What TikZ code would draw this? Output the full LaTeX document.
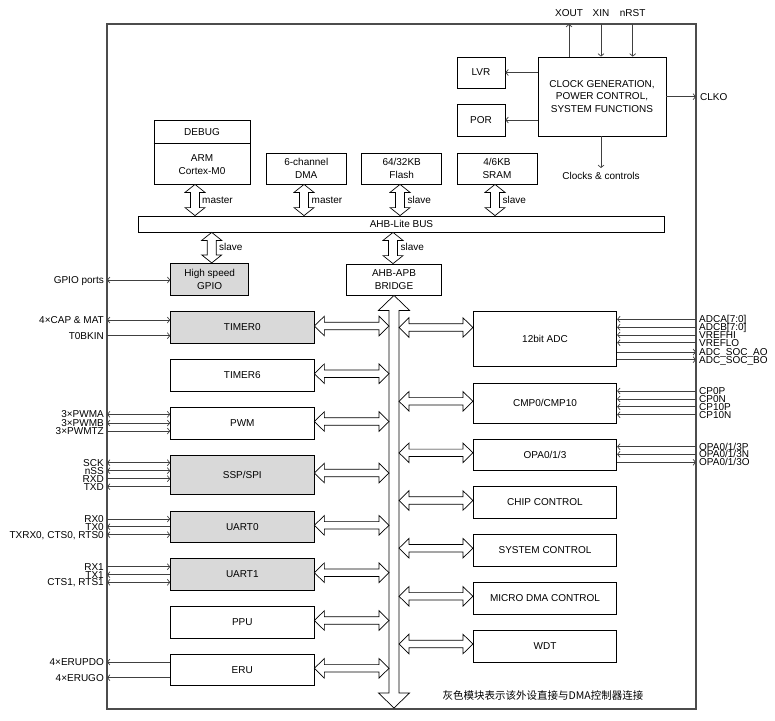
\documentclass[tikz,border=0pt]{standalone}
\usepackage{fontspec}
\setmainfont{Liberation Sans}
\newfontfamily\cjk{Noto Sans CJK SC}
\usetikzlibrary{arrows.meta,calc}
\tikzset{
  box/.style={draw=black, line width=0.8pt, inner sep=0pt, align=center, fill=white},
  gbox/.style={box, fill=black!15},
  pinline/.style={draw=black!75, line width=0.7pt, >={Straight Barb[length=2.5pt,width=6pt]}},
  lbl/.style={inner sep=0pt, font=\fontsize{10}{11}\selectfont},
  tag/.style={inner sep=0pt, anchor=west, font=\fontsize{10}{11}\selectfont},
  hollowv/.style n args={3}{draw=black, line width=0.7pt, fill=white,
    to path={let \p1=(\tikztostart), \p2=(\tikztotarget) in
      (\x1,\y1) -- ({\x1+#2},{\y1-#1}) -- ({\x1+#3},{\y1-#1}) -- ({\x1+#3},{\y2+#1})
      -- ({\x1+#2},{\y2+#1}) -- (\x1,\y2) -- ({\x1-#2},{\y2+#1}) -- ({\x1-#3},{\y2+#1})
      -- ({\x1-#3},{\y1-#1}) -- ({\x1-#2},{\y1-#1}) -- cycle}},
  hollowh/.style n args={3}{draw=black, line width=0.7pt, fill=white,
    to path={let \p1=(\tikztostart), \p2=(\tikztotarget) in
      (\x1,\y1) -- ({\x1+#1},{\y1+#2}) -- ({\x1+#1},{\y1+#3}) -- ({\x2-#1},{\y1+#3})
      -- ({\x2-#1},{\y1+#2}) -- (\x2,\y1) -- ({\x2-#1},{\y1-#2}) -- ({\x2-#1},{\y1-#3})
      -- ({\x1+#1},{\y1-#3}) -- ({\x1+#1},{\y1-#2}) -- cycle}},
  varr/.style={hollowv={8pt}{10pt}{4.5pt}},
  vbus/.style={hollowv={15pt}{15.5pt}{5pt}},
  harr/.style={hollowh={10pt}{9.8pt}{3.7pt}},
}
\newcommand\lpin[5]{\coordinate (#1) at (107,#2);
  \draw[pinline,#4] (#1) -- (#1 -| #3.west);
  \node[lbl,anchor=base east] at ([xshift=-3pt,yshift=-3.6pt]#1) {#5};}
\newcommand\rpin[5]{\coordinate (#1) at (696,#2);
  \draw[pinline,#4] (#1 -| #3.east) -- (#1);
  \node[lbl,anchor=base west] at ([xshift=3pt,yshift=-3.6pt]#1) {#5};}
\begin{document}
\begin{tikzpicture}[x=1pt,y=-1pt,font=\fontsize{10}{12.5}\selectfont]
\useasboundingbox (0,0) rectangle (775,720);
% frame
\draw[draw=black!70, line width=1.3pt] (107,24) rectangle (696,709);
\coordinate (frameL) at (107,0);
\coordinate (frameR) at (696,0);
% top blocks
\node[box, minimum width=128pt, minimum height=79pt] (clock) at (602,96.5) {CLOCK GENERATION,\\POWER CONTROL,\\SYSTEM FUNCTIONS};
\node[box, minimum width=48pt, minimum height=31pt] (lvr) at (481,72.5) {LVR};
\node[box, minimum width=48pt, minimum height=32pt] (por) at (481,120) {POR};
\node[box, minimum width=96pt, minimum height=64pt] (cpu) at (202,152) {};
\draw[line width=0.8pt] ([yshift=-24pt]cpu.north west) -- ([yshift=-24pt]cpu.north east);
\node[inner sep=0pt] (dbg) at ([yshift=-12pt]cpu.north) {DEBUG};
\node[inner sep=0pt, align=center] (arm) at ([yshift=20pt]cpu.south) {ARM\\Cortex-M0};
\node[box, minimum width=80.7pt, minimum height=31pt] (dma) at (306.3,168.5) {6-channel\\DMA};
\node[box, minimum width=80pt, minimum height=31pt] (flash) at (401.7,168.5) {64/32KB\\Flash};
\node[box, minimum width=80pt, minimum height=31pt] (sram) at (497,168.5) {4/6KB\\SRAM};
\node[box, minimum width=525.6pt, minimum height=16pt] (ahb) at (401.5,224) {AHB-Lite BUS};
\node[gbox, minimum width=78pt, minimum height=32pt] (gpio) at (209.7,279.3) {High speed\\GPIO};
\node[box, minimum width=95.3pt, minimum height=31pt] (bridge) at (394,279.5) {AHB-APB\\BRIDGE};
% clock connections
\coordinate (xout) at (569,24);
\coordinate (xin) at (601,24);
\coordinate (nrst) at (632.7,24);
\coordinate (clko) at (696,96.7);
\coordinate (clkc) at (601,168);
\draw[pinline,->] (clock.north -| xout) -- (xout);
\draw[pinline,->] (xin) -- (xin |- clock.north);
\draw[pinline,->] (nrst) -- (nrst |- clock.north);
\draw[pinline,->] (clock.east |- clko) -- (clko);
\draw[pinline,->] (clock.south -| clkc) -- (clkc);
\draw[pinline,->] (clock.west |- lvr.east) -- (lvr.east);
\draw[pinline,->] (clock.west |- por.east) -- (por.east);
\node[lbl] at (569,13) {XOUT};
\node[lbl] at (601,13) {XIN};
\node[lbl] at (632.7,13) {nRST};
\node[lbl,anchor=west] at ([xshift=4pt]clko) {CLKO};
\node[lbl] at (601,175.5) {Clocks \& controls};
% master/slave arrows
\draw[varr] ([xshift=-7pt]cpu.south) to ([xshift=-7pt]cpu.south |- ahb.north);
\draw[varr] ([xshift=-2.3pt]dma.south) to ([xshift=-2.3pt]dma.south |- ahb.north);
\draw[varr] ([xshift=-1.7pt]flash.south) to ([xshift=-1.7pt]flash.south |- ahb.north);
\draw[varr] ([xshift=-2pt]sram.south) to ([xshift=-2pt]sram.south |- ahb.north);
\draw[varr] ([xshift=2pt]gpio.north |- ahb.south) to ([xshift=2pt]gpio.north);
\draw[varr] ([xshift=-1pt]bridge.north |- ahb.south) to ([xshift=-1pt]bridge.north);
\node[tag] at (202,200) {master};
\node[tag] at (311.5,200) {master};
\node[tag] at (407.5,200) {slave};
\node[tag] at (502.5,200) {slave};
\node[tag] at (219,246.7) {slave};
\node[tag] at (400.5,246.7) {slave};
% left blocks
\node[gbox, minimum width=143.3pt, minimum height=31.6pt] (timer0) at (242.3,327.5) {TIMER0};
\node[box, minimum width=143.3pt, minimum height=31.7pt] (timer6) at (242.3,375.2) {TIMER6};
\node[box, minimum width=143.3pt, minimum height=32pt] (pwm) at (242.3,423) {PWM};
\node[gbox, minimum width=143.3pt, minimum height=39pt] (ssp) at (242.3,474.5) {SSP/SPI};
\node[gbox, minimum width=143.3pt, minimum height=31.7pt] (uart0) at (242.3,526.8) {UART0};
\node[gbox, minimum width=143.3pt, minimum height=31.7pt] (uart1) at (242.3,574.2) {UART1};
\node[box, minimum width=143.3pt, minimum height=32pt] (ppu) at (242.3,622) {PPU};
\node[box, minimum width=143.3pt, minimum height=31.7pt] (eru) at (242.3,669.8) {ERU};
% right blocks
\node[box, minimum width=143.4pt, minimum height=55pt] (adc) at (545,339.2) {12bit ADC};
\node[box, minimum width=143.4pt, minimum height=40pt] (cmp) at (545,403.3) {CMP0/CMP10};
\node[box, minimum width=143.4pt, minimum height=31.7pt] (opa) at (545,454.8) {OPA0/1/3};
\node[box, minimum width=143.4pt, minimum height=31.7pt] (chip) at (545,502.5) {CHIP CONTROL};
\node[box, minimum width=143.4pt, minimum height=31.7pt] (sysc) at (545,550.2) {SYSTEM CONTROL};
\node[box, minimum width=143.4pt, minimum height=31.4pt] (mdma) at (545,598.3) {MICRO DMA CONTROL};
\node[box, minimum width=143.4pt, minimum height=32pt] (wdt) at (545,646) {WDT};
% APB bus
\coordinate (busend) at (394,708);
\coordinate (apbL) at (389,0);
\coordinate (apbR) at (399,0);
\draw[vbus] (bridge.south) to (busend);
\foreach \b in {timer0,timer6,pwm,ssp,uart0,uart1,ppu,eru}
  \draw[harr] ([yshift=1.5pt]\b.east) to ([yshift=1.5pt]\b.east -| apbL);
\draw[harr] (apbR |- timer0.east) to (adc.west |- timer0.east);
\foreach \b in {cmp,opa,chip,sysc,mdma,wdt}
  \draw[harr] ([yshift=2pt]\b.west -| apbR) to ([yshift=2pt]\b.west);
% left pins
\lpin{pgpio}{280}{gpio}{<->}{GPIO ports}
\lpin{pcap}{320}{timer0}{<->}{4×CAP \& MAT}
\lpin{pbk}{335.7}{timer0}{->}{T0BKIN}
\lpin{ppa}{414.3}{pwm}{<->}{3×PWMA}
\lpin{ppb}{423}{pwm}{<->}{3×PWMB}
\lpin{ptz}{431}{pwm}{->}{3×PWMTZ}
\lpin{psck}{462.7}{ssp}{<->}{SCK}
\lpin{pnss}{470.7}{ssp}{<->}{nSS}
\lpin{prxd}{478.7}{ssp}{->}{RXD}
\lpin{ptxd}{486.7}{ssp}{<-}{TXD}
\lpin{prx0}{519}{uart0}{->}{RX0}
\lpin{ptx0}{526.7}{uart0}{<-}{TX0}
\lpin{pcts0}{534.7}{uart0}{<->}{TXRX0, CTS0, RTS0}
\lpin{prx1}{566.7}{uart1}{->}{RX1}
\lpin{ptx1}{574.7}{uart1}{<-}{TX1}
\lpin{pcts1}{582.3}{uart1}{<->}{CTS1, RTS1}
\lpin{pepdo}{662}{eru}{<-}{4×ERUPDO}
\lpin{pego}{677.7}{eru}{<-}{4×ERUGO}
% right pins
\rpin{radca}{319.3}{adc}{<-}{ADCA[7:0]}
\rpin{radcb}{327.3}{adc}{<-}{ADCB[7:0]}
\rpin{rvh}{335}{adc}{<-}{VREFHI}
\rpin{rvl}{342.7}{adc}{<-}{VREFLO}
\rpin{rsa}{352}{adc}{->}{ADC\_SOC\_AO}
\rpin{rsb}{359.7}{adc}{->}{ADC\_SOC\_BO}
\rpin{rc0p}{391}{cmp}{<-}{CP0P}
\rpin{rc0n}{399}{cmp}{<-}{CP0N}
\rpin{rc10p}{406.7}{cmp}{<-}{CP10P}
\rpin{rc10n}{414.7}{cmp}{<-}{CP10N}
\rpin{rop}{446.7}{opa}{<-}{OPA0/1/3P}
\rpin{ron}{454.3}{opa}{<-}{OPA0/1/3N}
\rpin{roo}{462.3}{opa}{->}{OPA0/1/3O}
% note
\node[inner sep=0pt, font=\cjk\fontsize{10.5}{12}\selectfont] (note) at (543,695) {灰色模块表示该外设直接与DMA控制器连接};
\end{tikzpicture}
\end{document}
